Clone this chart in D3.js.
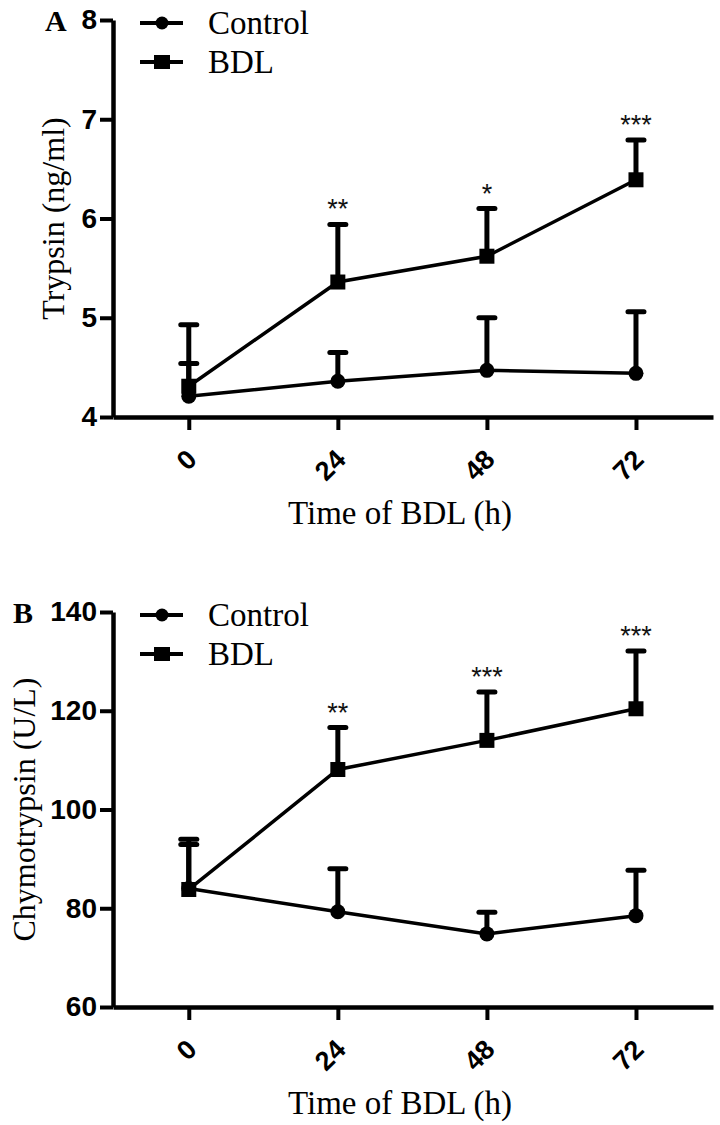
<!DOCTYPE html>
<html>
<head>
<meta charset="utf-8">
<script src="https://cdn.jsdelivr.net/npm/d3@7"></script>
<style>
  html, body { margin: 0; padding: 0; background: #fff; }
  svg { display: block; }
</style>
</head>
<body>
<svg id="chart" width="720" height="1125"></svg>
<script>
// ---------- data ----------
const times = [0, 24, 48, 72];
const timeLabels = ["0", "24", "48", "72"];
const seriesNames = ["Control", "BDL"];

// Panel A: Trypsin (ng/ml)
const trypsinControl = [4.21, 4.36, 4.47, 4.44];
const trypsinControlErr = [0.72, 0.29, 0.53, 0.62];
const trypsinBDL = [4.31, 5.36, 5.62, 6.39];
const trypsinBDLErr = [0.23, 0.58, 0.48, 0.40];
const trypsinStars = ["", "**", "*", "***"];
const trypsinTicks = [4, 5, 6, 7, 8];

// Panel B: Chymotrypsin (U/L)
const chymoControl = [84.0, 79.3, 74.8, 78.5];
const chymoControlErr = [10.0, 8.7, 4.4, 9.2];
const chymoBDL = [83.8, 108.1, 114.0, 120.4];
const chymoBDLErr = [9.1, 8.5, 9.8, 11.7];
const chymoStars = ["", "**", "***", "***"];
const chymoTicks = [60, 80, 100, 120, 140];

const svg = d3.select("#chart");
const SANS = "'Liberation Sans', Arial, sans-serif";
const SERIF = "'Liberation Serif', 'Times New Roman', serif";

function drawPanel(cfg) {
  const g = svg.append("g");
  const x = d3.scaleLinear().domain([-12.2, 84.4]).range([113, 713]);
  const y = d3.scaleLinear().domain(cfg.domain).range([cfg.bottom, cfg.top]);

  // y axis
  const yAxis = g.append("g")
    .attr("transform", `translate(${x(-12.2)},0)`)
    .call(d3.axisLeft(y).tickValues(cfg.ticks).tickFormat(d3.format("d"))
      .tickSize(13).tickSizeOuter(0).tickPadding(3));
  yAxis.select(".domain").attr("stroke", "#000").attr("stroke-width", 4.5);
  yAxis.selectAll(".tick line").attr("stroke", "#000").attr("stroke-width", 4);
  yAxis.selectAll(".tick text")
    .attr("font-family", SANS).attr("font-weight", "bold").attr("font-size", 28)
    .attr("fill", "#000");

  // x axis
  const xAxis = g.append("g")
    .attr("transform", `translate(0,${cfg.bottom})`)
    .call(d3.axisBottom(x).tickValues(times).tickFormat((d, i) => timeLabels[i])
      .tickSize(13).tickSizeOuter(0));
  xAxis.select(".domain").attr("stroke", "#000").attr("stroke-width", 4.5);
  xAxis.selectAll(".tick line").attr("stroke", "#000").attr("stroke-width", 4);
  xAxis.selectAll(".tick text")
    .attr("font-family", SANS).attr("font-weight", "bold").attr("font-size", 27)
    .attr("fill", "#000")
    .attr("text-anchor", "end")
    .attr("dy", 0)
    .attr("y", 0)
    .attr("transform", "translate(9,44) rotate(-45)");

  // panel letter
  g.append("text").attr("x", cfg.letterX).attr("y", cfg.top)
    .attr("dominant-baseline", "central")
    .attr("font-family", SERIF).attr("font-weight", "bold").attr("font-size", 30)
    .text(cfg.letter);

  // y title
  g.append("text")
    .attr("transform", `translate(${cfg.yTitleX},${(cfg.top + cfg.bottom) / 2}) rotate(-90)`)
    .attr("text-anchor", "middle")
    .attr("font-family", SERIF).attr("font-size", 32)
    .text(cfg.yTitle);

  // x title
  g.append("text")
    .attr("x", 400).attr("y", cfg.bottom + 107)
    .attr("text-anchor", "middle")
    .attr("font-family", SERIF).attr("font-size", 33)
    .text("Time of BDL (h)");

  const series = [
    { name: seriesNames[0], vals: cfg.control, err: cfg.controlErr, shape: "circle" },
    { name: seriesNames[1], vals: cfg.bdl, err: cfg.bdlErr, shape: "square" }
  ];

  // error bars (upper only)
  series.forEach(s => {
    const eb = g.append("g");
    times.forEach((t, i) => {
      const y0 = y(s.vals[i]), y1 = y(s.vals[i] + s.err[i]);
      eb.append("line").attr("x1", x(t)).attr("x2", x(t)).attr("y1", y0).attr("y2", y1)
        .attr("stroke", "#000").attr("stroke-width", 5);
      eb.append("line").attr("x1", x(t) - 8).attr("x2", x(t) + 8).attr("y1", y1).attr("y2", y1)
        .attr("stroke", "#000").attr("stroke-width", 5).attr("stroke-linecap", "round");
    });
  });

  // lines
  const line = d3.line().x((d, i) => x(times[i])).y(d => y(d));
  series.forEach(s => {
    g.append("path").datum(s.vals).attr("d", line)
      .attr("fill", "none").attr("stroke", "#000").attr("stroke-width", 3.5);
  });

  // markers
  function marker(sel, shape, cx, cy) {
    if (shape === "circle") {
      sel.append("circle").attr("cx", cx).attr("cy", cy).attr("r", 7.5).attr("fill", "#000");
    } else {
      sel.append("rect").attr("x", cx - 7.5).attr("y", cy - 7.5).attr("width", 15).attr("height", 15).attr("fill", "#000");
    }
  }
  series.forEach(s => {
    times.forEach((t, i) => marker(g, s.shape, x(t), y(s.vals[i])));
  });

  // significance stars
  times.forEach((t, i) => {
    if (!cfg.stars[i]) return;
    g.append("text")
      .attr("x", x(t)).attr("y", y(cfg.bdl[i] + cfg.bdlErr[i]) - 6)
      .attr("text-anchor", "middle")
      .attr("font-family", SANS).attr("font-size", 27).attr("fill", "#111")
      .text(cfg.stars[i]);
  });

  // legend
  series.forEach((s, k) => {
    const ly = cfg.top + 3 + k * 39;
    g.append("line").attr("x1", 140).attr("x2", 183).attr("y1", ly).attr("y2", ly)
      .attr("stroke", "#000").attr("stroke-width", 4);
    if (s.shape === "circle") {
      g.append("circle").attr("cx", 162).attr("cy", ly).attr("r", 6.5).attr("fill", "#000");
    } else {
      g.append("rect").attr("x", 162 - 8).attr("y", ly - 7).attr("width", 16).attr("height", 14).attr("fill", "#000");
    }
    g.append("text").attr("x", 208).attr("y", ly)
      .attr("dominant-baseline", "central")
      .attr("font-family", SERIF).attr("font-size", 33)
      .text(s.name);
  });
}

drawPanel({
  letter: "A", letterX: 45,
  domain: [4, 8], ticks: trypsinTicks, top: 20, bottom: 417,
  yTitle: "Trypsin (ng/ml)", yTitleX: 64,
  control: trypsinControl, controlErr: trypsinControlErr,
  bdl: trypsinBDL, bdlErr: trypsinBDLErr, stars: trypsinStars
});

drawPanel({
  letter: "B", letterX: 13,
  domain: [60, 140], ticks: chymoTicks, top: 612, bottom: 1007,
  yTitle: "Chymotrypsin (U/L)", yTitleX: 35,
  control: chymoControl, controlErr: chymoControlErr,
  bdl: chymoBDL, bdlErr: chymoBDLErr, stars: chymoStars
});
</script>
</body>
</html>
